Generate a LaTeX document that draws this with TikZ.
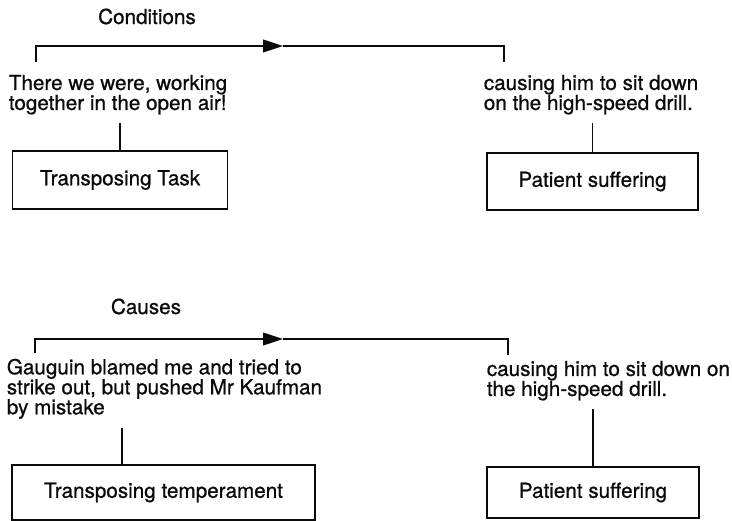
\documentclass[tikz,border=0pt]{standalone}
\usepackage{fontspec}
\setmainfont{TeX Gyre Heros}[FakeBold=0.8]
\usetikzlibrary{arrows.meta,positioning,calc}
\definecolor{ink}{RGB}{10,10,10}
\tikzset{
  every picture/.style={color=ink, line width=1.3pt, font=\fontsize{15.5}{15}\selectfont},
  box/.style={draw=ink, inner sep=0pt, align=center},
  said/.style={inner xsep=0pt, inner ysep=6pt, anchor=north west, align=left},
  head/.style={inner sep=0pt, anchor=base},
  flow/.style={-{Triangle[length=15pt,width=9.5pt]}},
  stem/.style={line width=1.3pt},
}

\begin{document}
\begin{tikzpicture}[x=0.75pt, y=-0.75pt]
  \useasboundingbox (0,0) rectangle (732,521);
  % Conditions: the scene leads on to the accident
  \node[head] (condhead) at (147,24) {Conditions};
  \node[said] (condtxt) at (8,66) {There we were, working\\together in the open air!};
  \node[said] (condres) at (483,66) {causing him to sit down\\on the high-speed drill.};
  \node[box, minimum width=161.25pt, minimum height=43.5pt] (task) at (120,180) {Transposing Task};
  \node[box, minimum width=158.25pt, minimum height=42.75pt] (suffer) at (592.5,181.5) {Patient suffering};
  \coordinate (condA) at (36,62);
  \coordinate (condM) at (283,46);
  \coordinate (condB) at (504,62);
  \draw[flow] (condA) |- (condM);
  \draw (condM) -| (condB);
  \draw[stem] (task.north) -- (task.north |- condtxt.south);
  \draw[stem] (suffer.north) -- (suffer.north |- condres.south);
  % Causes: the same result, pinned on temperament
  \node[head] (causehead) at (146,314) {Causes};
  \node[said] (causetxt) at (6,350) {Gauguin blamed me and tried to\\strike out, but pushed Mr Kaufman\\by mistake};
  \node[said] (causeres) at (486,352) {causing him to sit down on\\the high-speed drill.};
  \node[box, minimum width=227.25pt, minimum height=41.25pt] (temper) at (163.5,492.5) {Transposing temperament};
  \node[box, minimum width=159pt, minimum height=38.25pt] (suffer2) at (593,492.5) {Patient suffering};
  \coordinate (causeA) at (35,353);
  \coordinate (causeM) at (283,339);
  \coordinate (causeB) at (508,355);
  \coordinate (temperTop) at ($(temper.north west)+(111,0)$);
  \draw[flow] (causeA) |- (causeM);
  \draw (causeM) -| (causeB);
  \draw[stem] (temperTop) -- (temperTop |- causetxt.south);
  \draw[stem] (suffer2.north) -- (suffer2.north |- causeres.south);
\end{tikzpicture}
\end{document}
